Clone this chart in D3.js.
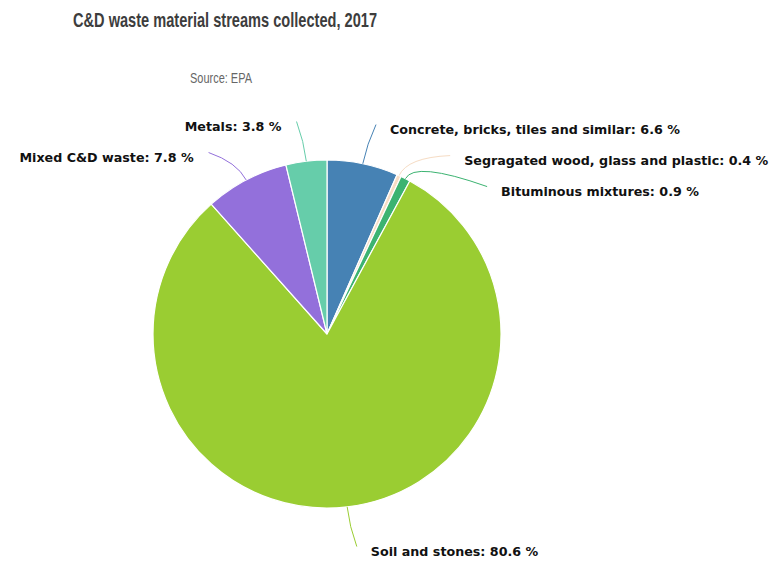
<!DOCTYPE html>
<html>
<head>
<meta charset="utf-8">
<script src="https://cdn.jsdelivr.net/npm/d3@7"></script>
<style>
  html, body { margin: 0; padding: 0; background: #fff; }
  svg { display: block; }
</style>
</head>
<body>
<svg id="chart" width="774" height="563"></svg>
<script>
const categories = [
  "Concrete, bricks, tiles and similar",
  "Segragated wood, glass and plastic",
  "Bituminous mixtures",
  "Soil and stones",
  "Mixed C&D waste",
  "Metals"
];
const values = [6.6, 0.4, 0.9, 80.6, 7.8, 3.8];
const colors = ["#4682b4", "#f6dcc4", "#3cb371", "#9acd32", "#9370db", "#66cdaa"];
const titleText = "C&D waste material streams collected, 2017";
const subtitleText = "Source: EPA";

const svg = d3.select("#chart");
const cx = 327, cy = 334, r = 174, dist = 40, spacing = 31;

svg.append("text")
  .attr("x", 73).attr("y", 27)
  .attr("textLength", 304).attr("lengthAdjust", "spacingAndGlyphs")
  .style("font-family", "'Liberation Sans', Arial, sans-serif")
  .style("font-weight", "bold").style("font-size", "21px")
  .style("fill", "#3d3d3d")
  .text(titleText);

svg.append("text")
  .attr("x", 190).attr("y", 83)
  .attr("textLength", 62).attr("lengthAdjust", "spacingAndGlyphs")
  .style("font-family", "'Liberation Sans', Arial, sans-serif")
  .style("font-size", "14px")
  .style("fill", "#666")
  .text(subtitleText);

const data = categories.map((c, i) => ({ name: c, value: values[i], color: colors[i] }));
const pie = d3.pie().sort(null).value(d => d.value);
const arcs = pie(data);
const arc = d3.arc().innerRadius(0).outerRadius(r);

const g = svg.append("g").attr("transform", `translate(${cx},${cy})`);
g.selectAll("path.slice").data(arcs).join("path")
  .attr("class", "slice")
  .attr("d", arc)
  .attr("fill", d => d.data.color)
  .attr("stroke", "#fff").attr("stroke-width", 1.2);

// label layout (Highcharts-like)
const R = r + dist;
const labels = arcs.map(a => {
  const m = (a.startAngle + a.endAngle) / 2;
  return { a, m, right: m < Math.PI, y: -R * Math.cos(m) };
});
["right", "left"].forEach(side => {
  const grp = labels.filter(l => (side === "right") === l.right).sort((p, q) => p.y - q.y);
  for (let i = 1; i < grp.length; i++) {
    if (grp[i].y < grp[i - 1].y + spacing) grp[i].y = grp[i - 1].y + spacing;
  }
});
labels.forEach(l => {
  const s = Math.max(-1, Math.min(1, l.y / R));
  const xr = R * Math.sqrt(1 - s * s);
  l.x = l.right ? xr : -xr;
});

labels.forEach(l => {
  const sx = r * Math.sin(l.m), sy = -r * Math.cos(l.m);
  const qx = (r + 20) * Math.sin(l.m), qy = -(r + 20) * Math.cos(l.m);
  const ex = l.x + (l.right ? 5 : -5), ey = l.y;
  const p = d3.path();
  p.moveTo(sx, sy);
  p.quadraticCurveTo(qx, qy, ex, ey);
  g.append("path").attr("d", p.toString())
    .attr("fill", "none").attr("stroke", l.a.data.color).attr("stroke-width", 1);
  g.append("text")
    .attr("x", l.x + (l.right ? 19 : -20))
    .attr("y", l.y + 9.5)
    .attr("text-anchor", l.right ? "start" : "end")
    .style("font-family", "'DejaVu Sans', Verdana, sans-serif")
    .style("font-weight", "bold").style("font-size", "12.7px")
    .style("fill", "#111")
    .text(`${l.a.data.name}: ${l.a.data.value} %`);
});
</script>
</body>
</html>
